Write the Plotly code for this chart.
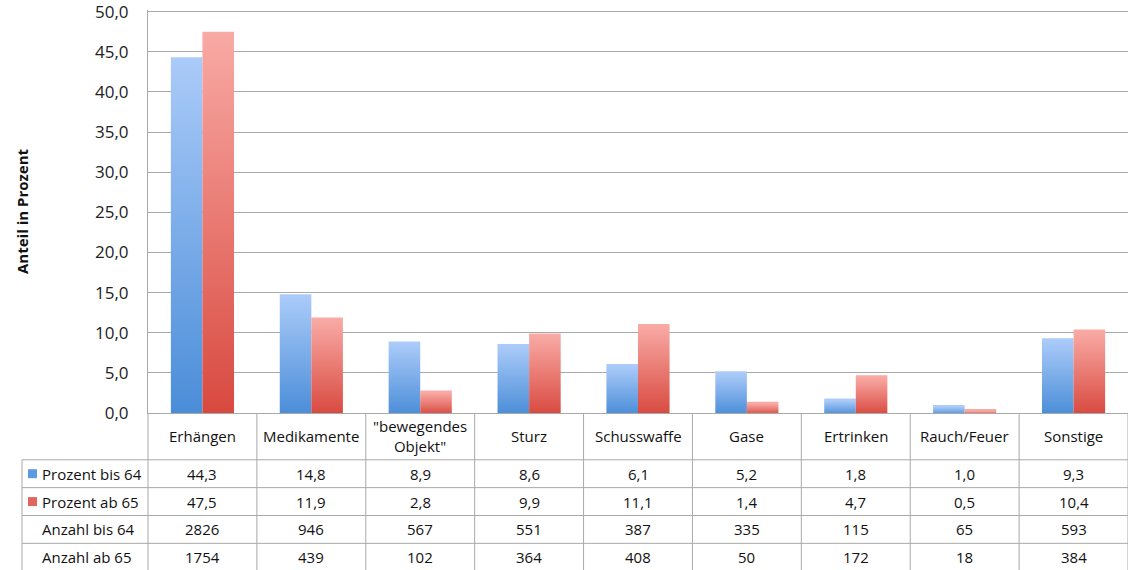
import plotly.graph_objects as go

# ---- data -------------------------------------------------------------
categories = ["Erhängen", "Medikamente", "\"bewegendes<br>Objekt\"", "Sturz",
              "Schusswaffe", "Gase", "Ertrinken", "Rauch/Feuer", "Sonstige"]
prozent_bis_64 = [44.3, 14.8, 8.9, 8.6, 6.1, 5.2, 1.8, 1.0, 9.3]
prozent_ab_65 = [47.5, 11.9, 2.8, 9.9, 11.1, 1.4, 4.7, 0.5, 10.4]
anzahl_bis_64 = [2826, 946, 567, 551, 387, 335, 115, 65, 593]
anzahl_ab_65 = [1754, 439, 102, 364, 408, 50, 172, 18, 384]
row_labels = ["Prozent bis 64", "Prozent ab 65", "Anzahl bis 64", "Anzahl ab 65"]
y_ticks = [0, 5, 10, 15, 20, 25, 30, 35, 40, 45, 50]
y_title = "Anteil in Prozent"

# ---- geometry (pixels) ------------------------------------------------
W, H = 1128, 570
L, R, T, B = 148, 0, 8, 157
PW, PH = W - L - R, H - T - B
HEADER_BOTTOM = 460
ROW_H = 28
TABLE_LEFT = 22
LABEL_X = 42
Y_MAX = 50.2  # small headroom so the 50,0 gridline and label stay visible


def paper_x(px):
    return (px - L) / PW


def paper_y(py):
    return (H - B - py) / PH


BLUE_SCALE = [[0, "#4a8dd8"], [1, "#abcbf9"]]
RED_SCALE = [[0, "#d8493f"], [1, "#f9aaa5"]]
BLUE_KEY, RED_KEY = "#5d9ae0", "#e0665e"
GRID = "#a9a9a9"
TEXT = "#111111"
FONT = "Open Sans"
TABLE_SIZE = 15

BAR_W = 0.29
n = len(categories)

fig = go.Figure()


def add_bar(i, value, offset, scale):
    x0 = i + offset
    x1 = x0 + BAR_W
    fig.add_trace(go.Scatter(
        x=[x0, x0, x1, x1, x0], y=[0, value, value, 0, 0],
        mode="lines", fill="toself", line=dict(width=0, color="rgba(0,0,0,0)"),
        fillgradient=dict(type="vertical", colorscale=scale, start=0, stop=value),
        hoverinfo="text", text=f"{value:.1f}".replace(".", ","),
        showlegend=False,
    ))


for i in range(n):
    add_bar(i, prozent_bis_64[i], -BAR_W, BLUE_SCALE)
    add_bar(i, prozent_ab_65[i], 0.0, RED_SCALE)

shapes = []
annotations = []

# table grid: vertical lines at category boundaries
for k in range(n + 1):
    shapes.append(dict(type="line", xref="paper", yref="paper",
                       x0=k / n, x1=k / n, y0=paper_y(H - B), y1=paper_y(H + 5),
                       line=dict(color=GRID, width=1)))
# left border of the row-label column
shapes.append(dict(type="line", xref="paper", yref="paper",
                   x0=paper_x(TABLE_LEFT), x1=paper_x(TABLE_LEFT),
                   y0=paper_y(HEADER_BOTTOM), y1=paper_y(H + 5),
                   line=dict(color=GRID, width=1)))
# horizontal row lines
for r in range(len(row_labels) + 1):
    yy = HEADER_BOTTOM + r * ROW_H
    shapes.append(dict(type="line", xref="paper", yref="paper",
                       x0=paper_x(TABLE_LEFT), x1=1, y0=paper_y(yy), y1=paper_y(yy),
                       line=dict(color=GRID, width=1)))

# category header texts
header_mid = (H - B + HEADER_BOTTOM) / 2
for i, c in enumerate(categories):
    annotations.append(dict(x=(i + 0.5) / n, y=paper_y(header_mid), xref="paper", yref="paper",
                            text=c, showarrow=False, xanchor="center", yanchor="middle",
                            font=dict(family=FONT, size=TABLE_SIZE, color=TEXT)))


def fmt_pct(v):
    return f"{v:.1f}".replace(".", ",")


rows = [
    [fmt_pct(v) for v in prozent_bis_64],
    [fmt_pct(v) for v in prozent_ab_65],
    [str(v) for v in anzahl_bis_64],
    [str(v) for v in anzahl_ab_65],
]
keys = [BLUE_KEY, RED_KEY, None, None]

for r, (label, vals) in enumerate(zip(row_labels, rows)):
    mid = HEADER_BOTTOM + r * ROW_H + ROW_H / 2
    annotations.append(dict(x=paper_x(LABEL_X - 2), y=paper_y(mid), xref="paper", yref="paper",
                            text=label, showarrow=False, xanchor="left", yanchor="middle",
                            font=dict(family=FONT, size=TABLE_SIZE, color=TEXT)))
    if keys[r]:
        shapes.append(dict(type="rect", xref="paper", yref="paper",
                           x0=paper_x(28), x1=paper_x(37),
                           y0=paper_y(mid - 4.5), y1=paper_y(mid + 4.5),
                           fillcolor=keys[r], line=dict(width=0)))
    for i, t in enumerate(vals):
        annotations.append(dict(x=(i + 0.5) / n, y=paper_y(mid), xref="paper", yref="paper",
                                text=t, showarrow=False, xanchor="center", yanchor="middle",
                                font=dict(family=FONT, size=TABLE_SIZE, color=TEXT)))

# y axis title
annotations.append(dict(x=paper_x(22), y=paper_y(210), xref="paper", yref="paper",
                        text=f"<b>{y_title}</b>", showarrow=False, textangle=-90,
                        xanchor="center", yanchor="middle",
                        font=dict(family=FONT, size=15, color=TEXT)))

fig.update_layout(
    width=W, height=H,
    margin=dict(l=L, r=R, t=T, b=B, pad=0),
    paper_bgcolor="white", plot_bgcolor="white",
    separators=",.",
    font=dict(family=FONT, color=TEXT),
    xaxis=dict(range=[-0.5, n - 0.5], showgrid=False, zeroline=False,
               showticklabels=False, ticks="", showline=True, linecolor=GRID,
               linewidth=1, fixedrange=True),
    yaxis=dict(range=[0, Y_MAX], tickvals=y_ticks, tickformat=".1f",
               showgrid=True, gridcolor=GRID, gridwidth=1, zeroline=False,
               showline=True, linecolor=GRID, linewidth=1, ticks="",
               ticklabelstandoff=15, ticklabeloverflow="allow",
               tickfont=dict(family=FONT, size=17, color="#222"),
               fixedrange=True),
    shapes=shapes,
    annotations=annotations,
    showlegend=False,
)

fig.write_html("out.html")
